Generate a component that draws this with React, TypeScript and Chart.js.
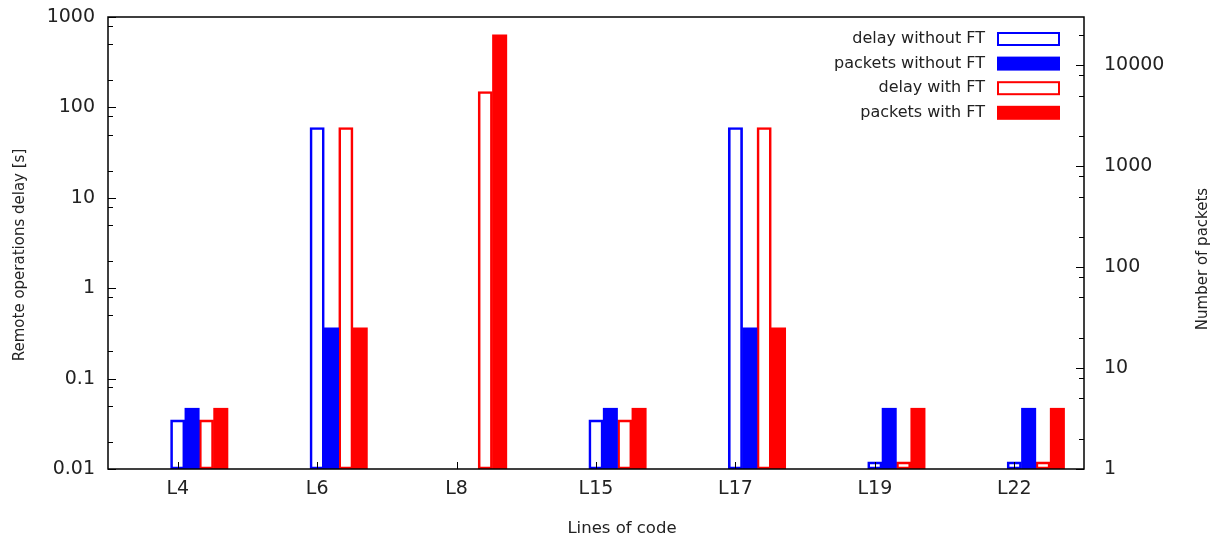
import React, { useEffect, useRef } from "react";
import { Chart, registerables } from "chart.js";

Chart.register(...registerables);

// ---- data ----
const categories = ["L4", "L6", "L8", "L15", "L17", "L19", "L22"];
const delayWithoutFT = [0.035, 60, null, 0.035, 60, 0.012, 0.012];
const packetsWithoutFT = [4, 25, null, 4, 25, 4, 4];
const delayWithFT = [0.035, 60, 150, 0.035, 60, 0.012, 0.012];
const packetsWithFT = [4, 25, 20000, 4, 25, 4, 4];

const delayTicks = [0.01, 0.1, 1, 10, 100, 1000];
const delayTickLabels = ["0.01", "0.1", "1", "10", "100", "1000"];
const packetTicks = [1, 10, 100, 1000, 10000];
const packetTickLabels = ["1", "10", "100", "1000", "10000"];
const minorMultipliers = [2, 5, 8];

const seriesLabels = [
  "delay without FT",
  "packets without FT",
  "delay with FT",
  "packets with FT",
];
const xTitle = "Lines of code";
const yTitle = "Remote operations delay [s]";
const y2Title = "Number of packets";

// ---- styling ----
const FONT = '"DejaVu Sans", sans-serif';
const TEXT = "#222222";
const BLUE = "#0000ff";
const RED = "#ff0000";
const BAR_STEP = 0.103; // width of one bar slot, in category units

const decorations = {
  id: "decorations",
  afterDraw(chart: any) {
    const { ctx, chartArea: a, scales } = chart;
    const { left, right, top, bottom } = a;
    ctx.save();
    ctx.strokeStyle = "#000";
    ctx.lineWidth = 1;

    const line = (x1: number, y1: number, x2: number, y2: number) => {
      ctx.beginPath();
      ctx.moveTo(x1, y1);
      ctx.lineTo(x2, y2);
      ctx.stroke();
    };

    // left axis ticks (inward)
    delayTicks.forEach((v) => {
      const y = Math.round(scales.y.getPixelForValue(v)) + 0.5;
      line(left, y, left + 8, y);
      if (v < 1000) {
        minorMultipliers.forEach((m) => {
          const ym = Math.round(scales.y.getPixelForValue(v * m)) + 0.5;
          line(left, ym, left + 5, ym);
        });
      }
    });
    // right axis ticks (inward)
    packetTicks.forEach((v) => {
      const y = Math.round(scales.y2.getPixelForValue(v)) + 0.5;
      line(right, y, right - 8, y);
      minorMultipliers.forEach((m) => {
        const val = v * m;
        if (val <= scales.y2.max) {
          const ym = Math.round(scales.y2.getPixelForValue(val)) + 0.5;
          line(right, ym, right - 5, ym);
        }
      });
    });
    // bottom ticks
    categories.forEach((_, i) => {
      const x = Math.round(scales.x.getPixelForValue(i)) + 0.5;
      line(x, bottom, x, bottom - 7);
    });

    // frame
    ctx.lineWidth = 1.5;
    ctx.strokeRect(left, top, right - left, bottom - top);

    // axis titles
    ctx.fillStyle = TEXT;
    ctx.textAlign = "center";
    ctx.textBaseline = "middle";
    ctx.font = `16.5px ${FONT}`;
    ctx.fillText(xTitle, 622, 529);
    ctx.font = `15px ${FONT}`;
    ctx.save();
    ctx.translate(20, 255);
    ctx.rotate(-Math.PI / 2);
    ctx.fillText(yTitle, 0, 0);
    ctx.restore();
    ctx.save();
    ctx.translate(1203, 259);
    ctx.rotate(-Math.PI / 2);
    ctx.fillText(y2Title, 0, 0);
    ctx.restore();

    // legend
    ctx.font = `16px ${FONT}`;
    ctx.textAlign = "right";
    const rowY0 = 39;
    const rowStep = 24.6;
    chart.data.datasets.forEach((ds: any, i: number) => {
      const y = rowY0 + i * rowStep;
      ctx.fillStyle = TEXT;
      ctx.fillText(ds.label, 985, y);
      const bx = 998, bw = 61, bh = 12;
      if (ds.borderWidth > 0) {
        ctx.strokeStyle = ds.borderColor;
        ctx.lineWidth = 2;
        ctx.strokeRect(bx, y - bh / 2, bw, bh);
      } else {
        ctx.fillStyle = ds.backgroundColor;
        ctx.fillRect(bx - 1, y - bh / 2 - 1, bw + 2, bh + 2);
      }
    });
    ctx.restore();
  },
};

const noPad = (s: any) => {
  s.paddingTop = 0;
  s.paddingBottom = 0;
  s.paddingLeft = 0;
  s.paddingRight = 0;
};

export default function App() {
  const ref = useRef<HTMLCanvasElement>(null);

  useEffect(() => {
    document.body.style.margin = "0";
    const canvas = ref.current!;
    const mk = (vals: (number | null)[], k: number) =>
      vals.map((v, i) => ({ x: i + k * BAR_STEP, y: v }));

    const tickFont = { family: FONT, size: 19 };

    const chart = new Chart(canvas, {
      type: "bar",
      data: {
        datasets: [
          {
            label: seriesLabels[0],
            data: mk(delayWithoutFT, 0),
            yAxisID: "y",
            backgroundColor: "rgba(255,255,255,0)",
            borderColor: BLUE,
            borderWidth: 2,
            borderSkipped: false,
          },
          {
            label: seriesLabels[1],
            data: mk(packetsWithoutFT, 1),
            yAxisID: "y2",
            backgroundColor: BLUE,
            borderWidth: 0,
          },
          {
            label: seriesLabels[2],
            data: mk(delayWithFT, 2),
            yAxisID: "y",
            backgroundColor: "rgba(255,255,255,0)",
            borderColor: RED,
            borderWidth: 2,
            borderSkipped: false,
          },
          {
            label: seriesLabels[3],
            data: mk(packetsWithFT, 3),
            yAxisID: "y2",
            backgroundColor: RED,
            borderWidth: 0,
          },
        ] as any,
      },
      options: {
        animation: false,
        responsive: false,
        devicePixelRatio: 1,
        layout: { padding: { top: 17, left: 0, right: 0, bottom: 0 } },
        datasets: {
          bar: { grouped: false, categoryPercentage: 1, barPercentage: 1 },
        } as any,
        plugins: {
          legend: { display: false },
          tooltip: { enabled: false },
        },
        scales: {
          x: {
            type: "linear",
            position: "bottom",
            min: -0.5,
            max: 6.5,
            offset: false,
            grid: { display: false, drawTicks: false },
            border: { display: false },
            afterBuildTicks: (s: any) => {
              s.ticks = categories.map((_, i) => ({ value: i }));
            },
            ticks: {
              autoSkip: false,
              maxRotation: 0,
              minRotation: 0,
              padding: 9,
              color: TEXT,
              font: tickFont,
              callback: (_v: any, i: number) => categories[i],
            },
            afterFit: (s: any) => {
              s.height = 73;
              noPad(s);
            },
          } as any,
          y: {
            type: "logarithmic",
            position: "left",
            min: 0.01,
            max: 1000,
            grid: { display: false, drawTicks: false },
            border: { display: false },
            afterBuildTicks: (s: any) => {
              s.ticks = delayTicks.map((v) => ({ value: v }));
            },
            ticks: {
              autoSkip: false,
              padding: 13,
              color: TEXT,
              font: tickFont,
              callback: (_v: any, i: number) => delayTickLabels[i],
            },
            afterFit: (s: any) => {
              s.width = 108;
              noPad(s);
            },
          } as any,
          y2: {
            type: "logarithmic",
            position: "right",
            min: 1,
            max: 30000,
            grid: { display: false, drawTicks: false },
            border: { display: false },
            afterBuildTicks: (s: any) => {
              s.ticks = packetTicks.map((v) => ({ value: v }));
            },
            ticks: {
              autoSkip: false,
              padding: 20,
              color: TEXT,
              font: tickFont,
              callback: (_v: any, i: number) => packetTickLabels[i],
            },
            afterFit: (s: any) => {
              s.width = 128;
              noPad(s);
            },
          } as any,
        },
      },
      plugins: [decorations],
    });

    return () => chart.destroy();
  }, []);

  return (
    <canvas
      ref={ref}
      width={1212}
      height={542}
      style={{ display: "block", width: 1212, height: 542 }}
    />
  );
}
